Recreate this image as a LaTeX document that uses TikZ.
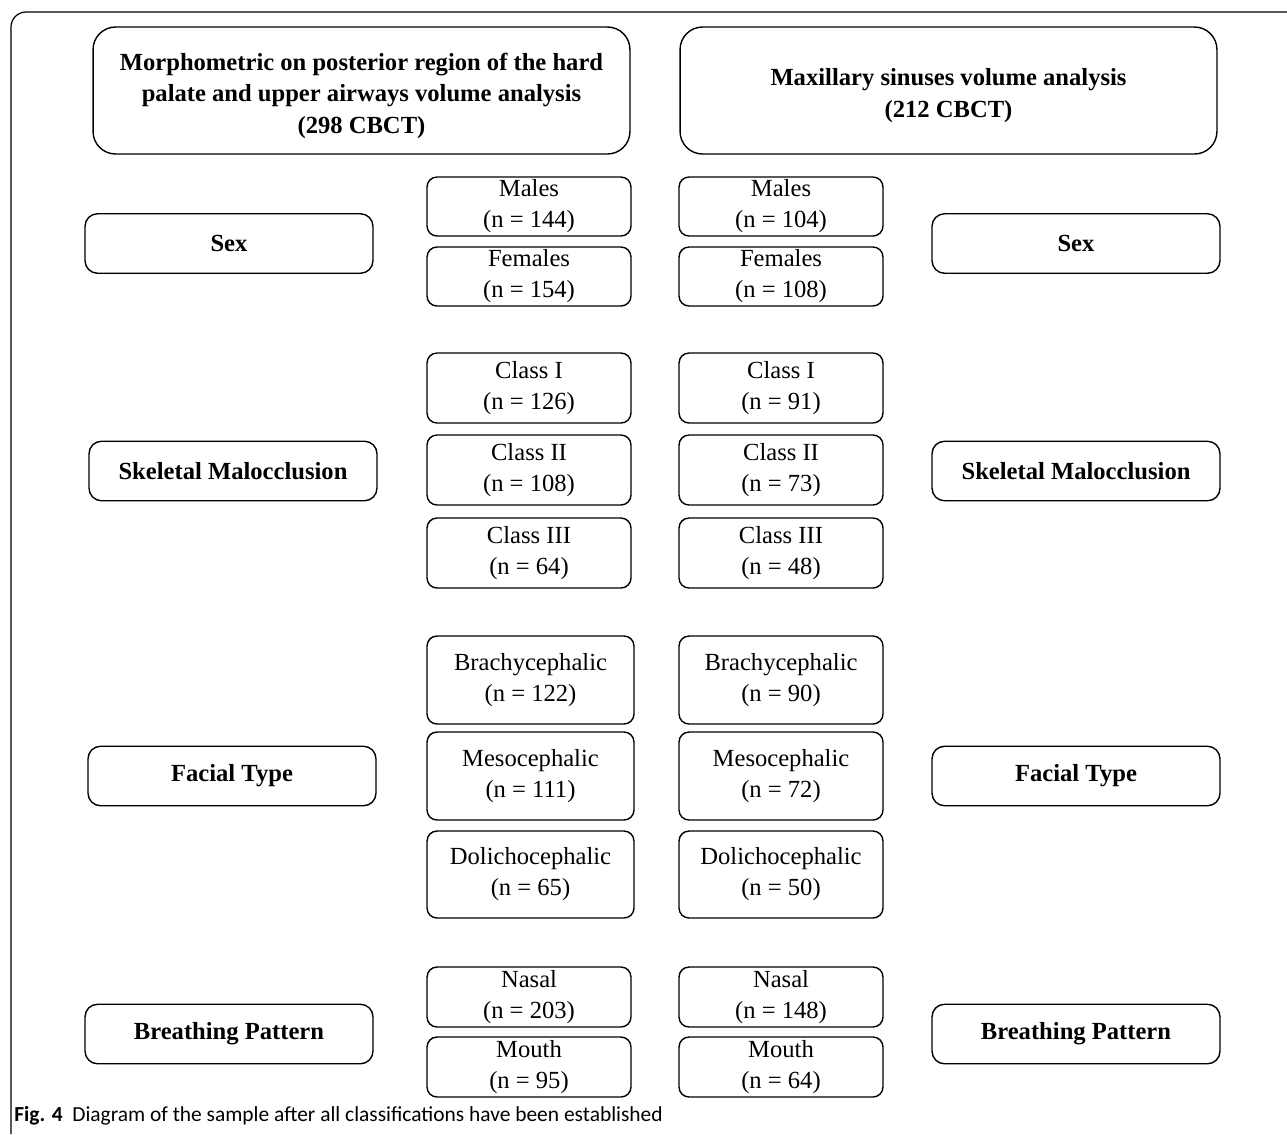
\documentclass[tikz,border=0pt]{standalone}
\usepackage{fontspec}
\setmainfont{Liberation Serif}
\newfontfamily\capfont{Carlito}
\begin{document}
\begin{tikzpicture}[x=0.02cm,y=-0.02cm,
  every node/.style={font=\fontsize{14}{17.6}\selectfont, align=center, inner sep=0pt},
  box/.style={draw, line width=0.8pt, rounded corners=0.2cm},
  topbox/.style={box, rounded corners=0.45cm, minimum width=10.74cm, minimum height=2.54cm,
    font=\fontsize{14}{17.8}\selectfont\bfseries},
  catbox/.style={box, rounded corners=0.25cm, minimum width=5.76cm, minimum height=1.19cm,
    font=\fontsize{14}{17.6}\selectfont\bfseries},
  countbox/.style={box, minimum width=4.08cm}]
  \useasboundingbox (0,0) rectangle (1287,1134);

  % Outer frame (top and left edges only)
  \draw[line width=0.7pt, rounded corners=0.3cm] (11,1134) -- (11,12) -- (1287,12);

  % Headers
  \node[topbox] (morpho) at (361.5,90.5) {\rule{0pt}{16pt}Morphometric on posterior region of the hard\\palate and upper airways volume analysis\\(298 CBCT)};
  \node[topbox] (sinus) at (948.5,90.5) {\rule{0pt}{15.5pt}Maxillary sinuses volume analysis\\(212 CBCT)};

  % Categories, left
  \node[catbox] (sexL) at (229,243.5) {Sex};
  \node[catbox] (skelL) at (233,471) {Skeletal Malocclusion};
  \node[catbox] (faceL) at (232,776) {Facial Type};
  \node[catbox] (breathL) at (229,1034) {Breathing Pattern};

  % Categories, right
  \node[catbox] (sexR) at (1076,243.5) {Sex};
  \node[catbox] (skelR) at (1076,471) {Skeletal Malocclusion};
  \node[catbox] (faceR) at (1076,776) {Facial Type};
  \node[catbox] (breathR) at (1076,1034) {Breathing Pattern};

  % Counts, 298 CBCT
  \node[countbox, minimum height=1.18cm] (maleL) at (529,206.5) {Males\\(n = 144)};
  \node[countbox, minimum height=1.18cm] (femaleL) at (529,276.5) {Females\\(n = 154)};
  \node[countbox, minimum height=1.4cm] (classIL) at (529,388) {Class I\\(n = 126)};
  \node[countbox, minimum height=1.4cm] (classIIL) at (529,470) {Class II\\(n = 108)};
  \node[countbox, minimum height=1.4cm] (classIIIL) at (529,553) {Class III\\(n = 64)};
  \node[countbox, minimum width=4.14cm, minimum height=1.76cm] (brachyL) at (530.5,680) {Brachycephalic\\(n = 122)};
  \node[countbox, minimum width=4.14cm, minimum height=1.76cm] (mesoL) at (530.5,776) {Mesocephalic\\(n = 111)};
  \node[countbox, minimum width=4.14cm, minimum height=1.74cm] (dolichoL) at (530.5,874.5) {Dolichocephalic\\(n = 65)};
  \node[countbox, minimum height=1.2cm] (nasalL) at (529,997) {Nasal\\(n = 203)};
  \node[countbox, minimum height=1.2cm] (mouthL) at (529,1067) {Mouth\\(n = 95)};

  % Counts, 212 CBCT
  \node[countbox, minimum height=1.18cm] (maleR) at (781,206.5) {Males\\(n = 104)};
  \node[countbox, minimum height=1.18cm] (femaleR) at (781,276.5) {Females\\(n = 108)};
  \node[countbox, minimum height=1.4cm] (classIR) at (781,388) {Class I\\(n = 91)};
  \node[countbox, minimum height=1.4cm] (classIIR) at (781,470) {Class II\\(n = 73)};
  \node[countbox, minimum height=1.4cm] (classIIIR) at (781,553) {Class III\\(n = 48)};
  \node[countbox, minimum height=1.76cm] (brachyR) at (781,680) {Brachycephalic\\(n = 90)};
  \node[countbox, minimum height=1.76cm] (mesoR) at (781,776) {Mesocephalic\\(n = 72)};
  \node[countbox, minimum height=1.74cm] (dolichoR) at (781,874.5) {Dolichocephalic\\(n = 50)};
  \node[countbox, minimum height=1.2cm] (nasalR) at (781,997) {Nasal\\(n = 148)};
  \node[countbox, minimum height=1.2cm] (mouthR) at (781,1067) {Mouth\\(n = 64)};

  % Caption
  \node[anchor=west, font=\capfont\fontsize{12.2}{14}\selectfont] (caption) at (14,1116)
    {\textbf{Fig. 4}\ \ Diagram of the sample after all classifications have been established};
\end{tikzpicture}
\end{document}
